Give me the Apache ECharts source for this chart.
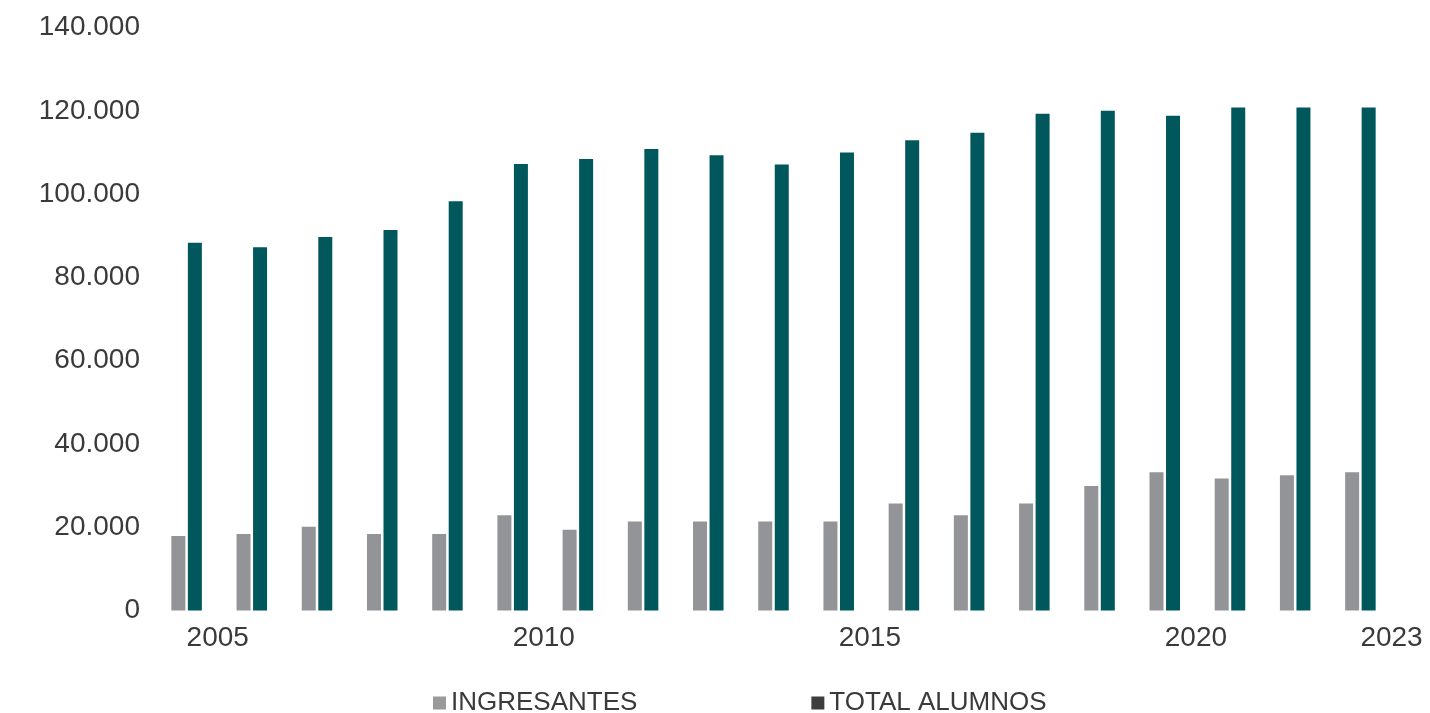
<!DOCTYPE html>
<html>
<head>
<meta charset="utf-8">
<script src="https://cdn.jsdelivr.net/npm/echarts@6/dist/echarts.min.js"></script>
<style>
html,body{margin:0;padding:0;background:#fff;}
#chart{width:1430px;height:713px;}
</style>
</head>
<body>
<div id="chart"></div>
<script>
const years = ['2005','2006','2007','2008','2009','2010','2011','2012','2013','2014','2015','2016','2017','2018','2019','2020','2021','2022','2023'];
const shownYears = ['2005','2010','2015','2020','2023'];
const ingresantes = [17900,18400,20100,18400,18400,22900,19400,21400,21400,21400,21400,25700,22900,25700,29900,33200,31700,32500,33200];
const totalAlumnos = [88300,87200,89700,91400,98300,107200,108400,110800,109300,107100,110000,112900,114700,119300,120000,118800,120800,120800,120800];
const seriesNames = ['INGRESANTES','TOTAL ALUMNOS'];

const font = "'Liberation Sans', Arial, sans-serif";
const chart = echarts.init(document.getElementById('chart'));
chart.setOption({
  animation: false,
  grid: { left: 154, right: 37, top: 27.5, bottom: 102.5, containLabel: false },
  legend: {
    left: 428, top: 685,
    itemWidth: 13, itemHeight: 13, itemGap: 174,
    icon: 'rect',
    textStyle: { fontFamily: font, fontSize: 26, color: '#3a3a3a' },
    data: [
      { name: seriesNames[0], itemStyle: { color: '#9a9a9b' } },
      { name: seriesNames[1], itemStyle: { color: '#3d3d3d' } }
    ]
  },
  xAxis: {
    type: 'category',
    data: years,
    axisLine: { show: false },
    axisTick: { show: false },
    axisLabel: {
      interval: (i, v) => shownYears.includes(v),
      align: 'left',
      margin: 14,
      fontFamily: font, fontSize: 28, color: '#3a3a3a'
    }
  },
  yAxis: {
    type: 'value',
    min: 0, max: 140000, interval: 20000,
    splitLine: { show: false },
    axisLine: { show: false },
    axisTick: { show: false },
    axisLabel: {
      margin: 14,
      fontFamily: font, fontSize: 28, color: '#3a3a3a',
      formatter: v => String(v).replace(/\B(?=(\d{3})+(?!\d))/g, '.')
    }
  },
  series: [
    { name: seriesNames[0], type: 'bar', data: ingresantes, barWidth: 14, barGap: '18%',
      itemStyle: { color: '#939497' } },
    { name: seriesNames[1], type: 'bar', data: totalAlumnos, barWidth: 14,
      itemStyle: { color: '#00585c' } }
  ]
});
</script>
</body>
</html>
